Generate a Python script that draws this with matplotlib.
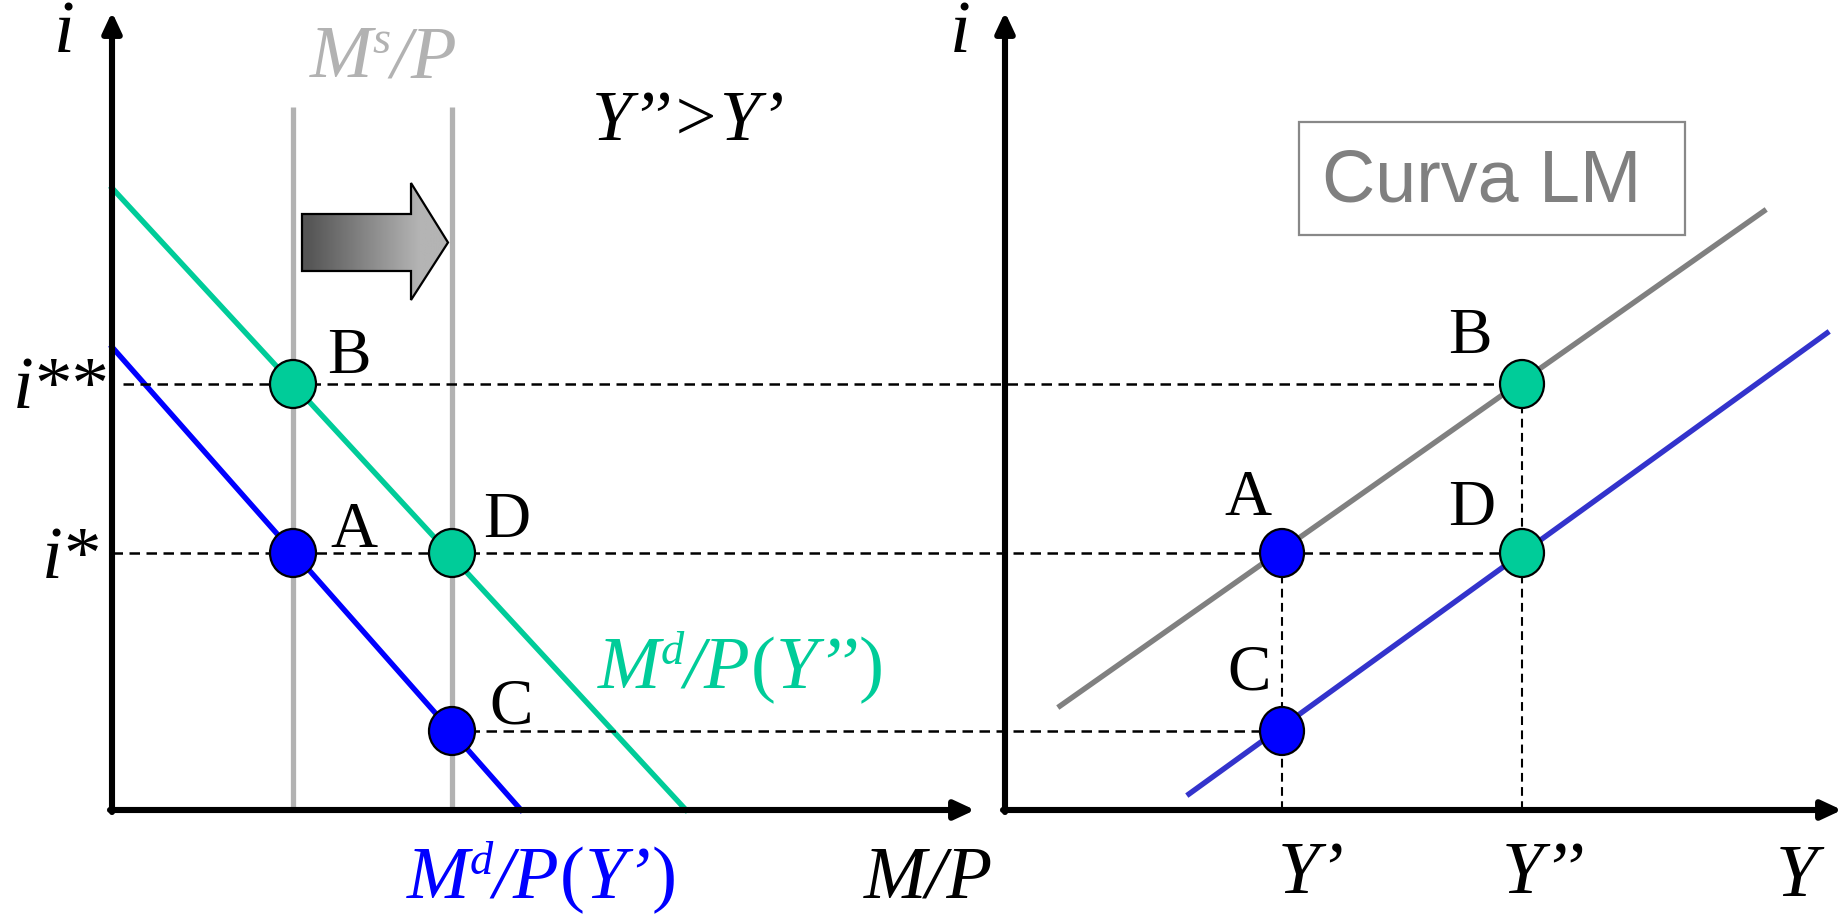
import numpy as np
import matplotlib
matplotlib.use('Agg')
import matplotlib.pyplot as plt
from matplotlib.colors import LinearSegmentedColormap
from matplotlib.patches import Ellipse, Polygon, FancyArrowPatch, Rectangle

plt.rcParams['font.family'] = ['Liberation Serif', 'DejaVu Serif']

# units: 1 = 100 px, origin of each panel at its axes corner
# left panel: money market
MS = [1.81, 3.40]              # two money supply levels (M/P)
MS_TOP = 7.03
I_STAR, I_2STAR, I_C = 2.57, 4.26, 0.79
MD_LOW_X = [0.0, 4.09]         # Md/P(Y')
MD_LOW_Y = [4.63, 0.0]
MD_HIGH_X = [0.0, 5.74]        # Md/P(Y'')
MD_HIGH_Y = [6.22, 0.0]

# right panel: LM curve
Y_VALS = [2.77, 5.17]          # Y', Y''
LM_GRAY_X = [0.55, 7.59]
LM_GRAY_Y = [1.04, 5.99]
LM_BLUE_X = [1.84, 8.22]
LM_BLUE_Y = [0.16, 4.77]

RX = 8.93                      # x offset of right panel origin

GREEN = '#00CC99'
BLUE = '#0000FF'
LMBLUE = '#3333CC'
GREY = '#B2B2B2'
LMGREY = '#808080'

LET = 47
BIG = 54

fig = plt.figure(figsize=(18.49, 9.14), dpi=100)
ax = fig.add_axes([0, 0, 1, 1])
ax.set_xlim(-1.12, 17.37)
ax.set_ylim(-1.04, 8.10)
ax.axis('off')
renderer = fig.canvas.get_renderer()


def axis_arrow(x0, y0, x1, y1):
    ax.add_patch(FancyArrowPatch((x0, y0), (x1, y1),
                                 arrowstyle='-|>,head_length=0.6,head_width=0.28',
                                 mutation_scale=20, lw=4.4, color='black',
                                 shrinkA=0, shrinkB=0, zorder=6))


def dashed(xs, ys, lw=1.8):
    ax.plot(xs, ys, color='black', lw=lw, dashes=(4.2, 2.6), zorder=3)


def dot(x, y, color, w=0.46, h=0.48):
    ax.add_patch(Ellipse((x, y), w, h, facecolor=color, edgecolor='black',
                         lw=1.6, zorder=7))


def rich(x, y, parts, size=BIG, color='black'):
    # lay out italic pieces side by side; 'sup' pieces are small and raised
    cx = x
    for s, kind in parts:
        fs = size * 0.62 if kind == 'sup' else size
        dy = size * 1.389 * 0.32 / 100 if kind == 'sup' else 0
        t = ax.text(cx, y + dy, s, fontsize=fs, color=color, va='baseline',
                    style='normal' if kind == 'rm' else 'italic')
        cx += t.get_window_extent(renderer).width / 100


# ---- left panel ----
for m in MS:
    ax.plot([m, m], [0, MS_TOP], color=GREY, lw=3.8, zorder=2,
            solid_capstyle='butt')
ax.plot(MD_HIGH_X, MD_HIGH_Y, color=GREEN, lw=3.9, zorder=2)
ax.plot(MD_LOW_X, MD_LOW_Y, color=BLUE, lw=3.9, zorder=2)

# block arrow with gradient between the two supply lines
bx0, bx1, tip = MS[0] + 0.09, MS[1] - 0.41, MS[1] - 0.04
by0, by1, hy0, hy1 = 5.39, 5.96, 5.10, 6.27
verts = [(bx0, by1), (bx1, by1), (bx1, hy1), (tip, (by0 + by1) / 2),
         (bx1, hy0), (bx1, by0), (bx0, by0)]
poly = Polygon(verts, closed=True, facecolor='none', edgecolor='black',
               lw=1.6, zorder=5)
ax.add_patch(poly)
grad = np.clip(np.linspace(-0.05, 1.25, 256), 0, 1)
img = ax.imshow(grad[None, :], extent=(bx0, tip, hy0, hy1), aspect='auto',
                cmap=LinearSegmentedColormap.from_list('g', ['#555555', '#B4B4B4']),
                vmin=0, vmax=1, zorder=4)
img.set_clip_path(poly)

# dashed guides
dashed([0.11, RX + Y_VALS[1]], [I_2STAR, I_2STAR])
dashed([0.0, RX + Y_VALS[1]], [I_STAR, I_STAR])
dashed([MS[1], RX + Y_VALS[0]], [I_C, I_C])
dashed([RX + Y_VALS[0]] * 2, [0, I_STAR], lw=1.5)
dashed([RX + Y_VALS[1]] * 2, [0, I_2STAR], lw=1.5)

dot(MS[0], I_2STAR, GREEN)
dot(MS[0], I_STAR, BLUE)
dot(MS[1], I_STAR, GREEN)
dot(MS[1], I_C, BLUE)

axis_arrow(0, -0.02, 0, 7.98)
axis_arrow(-0.02, 0, 8.63, 0)

ax.text(2.15, 4.37, 'B', fontsize=LET, va='baseline')
ax.text(2.18, 2.63, 'A', fontsize=LET, va='baseline')
ax.text(3.71, 2.73, 'D', fontsize=LET, va='baseline')
ax.text(3.77, 0.87, 'C', fontsize=LET, va='baseline')

ax.text(-0.48, 7.58, 'i', fontsize=BIG, style='italic', ha='center', va='baseline')
rich(-0.99, 4.02, [('i', 'it'), ('**', 'rm')])
rich(-0.70, 2.32, [('i', 'it'), ('*', 'rm')])
rich(1.98, 7.33, [('M', 'it'), ('s', 'sup'), ('/P', 'it')], color=GREY)
ax.text(4.80, 6.70, 'Y’’>Y’', fontsize=52, style='italic', va='baseline')
rich(4.86, 1.22, [('M', 'it'), ('d', 'sup'), ('/P', 'it'), ('(', 'rm'),
                  ('Y’’', 'it'), (')', 'rm')], color=GREEN)
rich(2.95, -0.88, [('M', 'it'), ('d', 'sup'), ('/P', 'it'), ('(', 'rm'),
                   ('Y’', 'it'), (')', 'rm')], color=BLUE)
ax.text(7.52, -0.88, 'M/P', fontsize=BIG, style='italic', va='baseline')

# ---- right panel ----
ax.plot([RX + x for x in LM_GRAY_X], LM_GRAY_Y, color=LMGREY, lw=3.9, zorder=2)
ax.plot([RX + x for x in LM_BLUE_X], LM_BLUE_Y, color=LMBLUE, lw=3.9, zorder=2)

dot(RX + Y_VALS[1], I_2STAR, GREEN, w=0.44)
dot(RX + Y_VALS[0], I_STAR, BLUE, w=0.44)
dot(RX + Y_VALS[1], I_STAR, GREEN, w=0.44)
dot(RX + Y_VALS[0], I_C, BLUE, w=0.44)

axis_arrow(RX, -0.02, RX, 7.98)
axis_arrow(RX - 0.02, 0, 17.30, 0)

ax.text(13.36, 4.57, 'B', fontsize=LET, va='baseline')
ax.text(11.12, 2.95, 'A', fontsize=LET, va='baseline')
ax.text(13.36, 2.85, 'D', fontsize=LET, va='baseline')
ax.text(11.15, 1.20, 'C', fontsize=LET, va='baseline')

ax.text(8.48, 7.58, 'i', fontsize=BIG, style='italic', ha='center', va='baseline')
ax.text(11.66, -0.83, 'Y’', fontsize=BIG, style='italic', va='baseline')
ax.text(13.90, -0.83, 'Y’’', fontsize=BIG, style='italic', va='baseline')
ax.text(16.64, -0.86, 'Y', fontsize=BIG, style='italic', va='baseline')

ax.add_patch(Rectangle((11.87, 5.75), 3.86, 1.13, facecolor='none',
                       edgecolor='#888888', lw=1.6, zorder=5))
ax.text(13.70, 6.28, 'Curva LM', fontsize=53, color=LMGREY,
        family=['Liberation Sans', 'DejaVu Sans'], ha='center', va='center')

fig.savefig('out.png', dpi=100, facecolor='white')
